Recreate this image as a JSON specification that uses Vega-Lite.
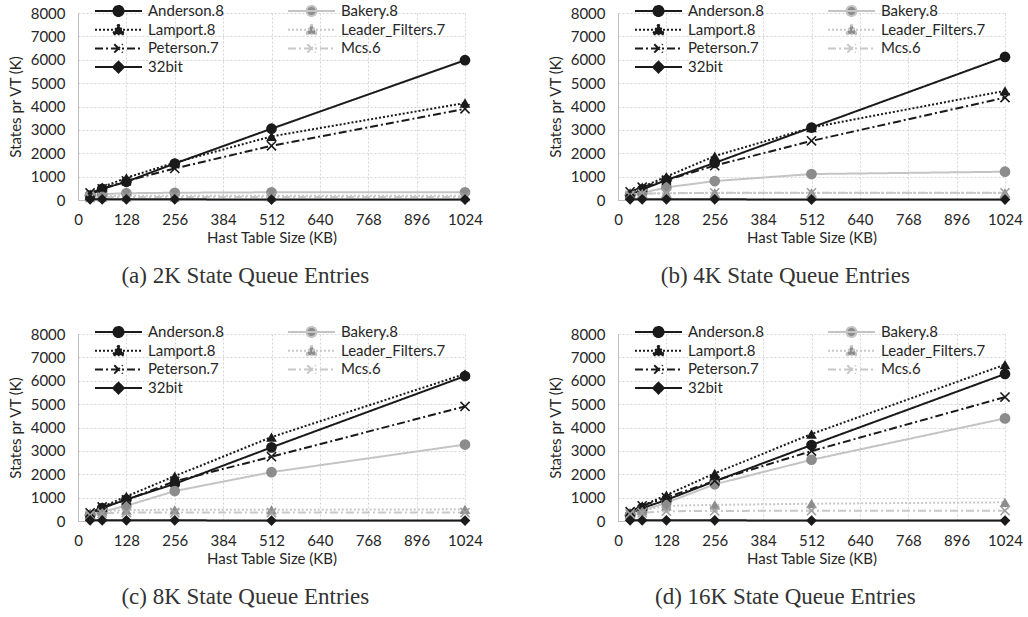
{
  "$schema": "https://vega.github.io/schema/vega-lite/v6.json",
  "padding": {"left": 8, "top": 3, "right": 5, "bottom": 5},
  "background": "white",
  "datasets": {
    "d": [
      {"p":"a","s":"Anderson.8","x":32,"y":200},{"p":"a","s":"Anderson.8","x":64,"y":480},{"p":"a","s":"Anderson.8","x":128,"y":780},{"p":"a","s":"Anderson.8","x":256,"y":1560},{"p":"a","s":"Anderson.8","x":512,"y":3050},{"p":"a","s":"Anderson.8","x":1024,"y":5980},
      {"p":"a","s":"Bakery.8","x":32,"y":200},{"p":"a","s":"Bakery.8","x":64,"y":250},{"p":"a","s":"Bakery.8","x":128,"y":290},{"p":"a","s":"Bakery.8","x":256,"y":310},{"p":"a","s":"Bakery.8","x":512,"y":330},{"p":"a","s":"Bakery.8","x":1024,"y":330},
      {"p":"a","s":"Lamport.8","x":32,"y":250},{"p":"a","s":"Lamport.8","x":64,"y":550},{"p":"a","s":"Lamport.8","x":128,"y":950},{"p":"a","s":"Lamport.8","x":256,"y":1600},{"p":"a","s":"Lamport.8","x":512,"y":2720},{"p":"a","s":"Lamport.8","x":1024,"y":4150},
      {"p":"a","s":"Leader_Filters.7","x":32,"y":150},{"p":"a","s":"Leader_Filters.7","x":64,"y":170},{"p":"a","s":"Leader_Filters.7","x":128,"y":180},{"p":"a","s":"Leader_Filters.7","x":256,"y":180},{"p":"a","s":"Leader_Filters.7","x":512,"y":180},{"p":"a","s":"Leader_Filters.7","x":1024,"y":180},
      {"p":"a","s":"Peterson.7","x":32,"y":300},{"p":"a","s":"Peterson.7","x":64,"y":480},{"p":"a","s":"Peterson.7","x":128,"y":820},{"p":"a","s":"Peterson.7","x":256,"y":1350},{"p":"a","s":"Peterson.7","x":512,"y":2320},{"p":"a","s":"Peterson.7","x":1024,"y":3900},
      {"p":"a","s":"Mcs.6","x":32,"y":100},{"p":"a","s":"Mcs.6","x":64,"y":120},{"p":"a","s":"Mcs.6","x":128,"y":130},{"p":"a","s":"Mcs.6","x":256,"y":130},{"p":"a","s":"Mcs.6","x":512,"y":130},{"p":"a","s":"Mcs.6","x":1024,"y":130},
      {"p":"a","s":"32bit","x":32,"y":30},{"p":"a","s":"32bit","x":64,"y":30},{"p":"a","s":"32bit","x":128,"y":30},{"p":"a","s":"32bit","x":256,"y":30},{"p":"a","s":"32bit","x":512,"y":20},{"p":"a","s":"32bit","x":1024,"y":20},

      {"p":"b","s":"Anderson.8","x":32,"y":200},{"p":"b","s":"Anderson.8","x":64,"y":450},{"p":"b","s":"Anderson.8","x":128,"y":850},{"p":"b","s":"Anderson.8","x":256,"y":1590},{"p":"b","s":"Anderson.8","x":512,"y":3100},{"p":"b","s":"Anderson.8","x":1024,"y":6120},
      {"p":"b","s":"Bakery.8","x":32,"y":200},{"p":"b","s":"Bakery.8","x":64,"y":300},{"p":"b","s":"Bakery.8","x":128,"y":540},{"p":"b","s":"Bakery.8","x":256,"y":810},{"p":"b","s":"Bakery.8","x":512,"y":1110},{"p":"b","s":"Bakery.8","x":1024,"y":1210},
      {"p":"b","s":"Lamport.8","x":32,"y":300},{"p":"b","s":"Lamport.8","x":64,"y":550},{"p":"b","s":"Lamport.8","x":128,"y":1000},{"p":"b","s":"Lamport.8","x":256,"y":1880},{"p":"b","s":"Lamport.8","x":512,"y":3100},{"p":"b","s":"Lamport.8","x":1024,"y":4670},
      {"p":"b","s":"Leader_Filters.7","x":32,"y":250},{"p":"b","s":"Leader_Filters.7","x":64,"y":280},{"p":"b","s":"Leader_Filters.7","x":128,"y":290},{"p":"b","s":"Leader_Filters.7","x":256,"y":300},{"p":"b","s":"Leader_Filters.7","x":512,"y":300},{"p":"b","s":"Leader_Filters.7","x":1024,"y":300},
      {"p":"b","s":"Peterson.7","x":32,"y":350},{"p":"b","s":"Peterson.7","x":64,"y":550},{"p":"b","s":"Peterson.7","x":128,"y":850},{"p":"b","s":"Peterson.7","x":256,"y":1470},{"p":"b","s":"Peterson.7","x":512,"y":2530},{"p":"b","s":"Peterson.7","x":1024,"y":4380},
      {"p":"b","s":"Mcs.6","x":32,"y":200},{"p":"b","s":"Mcs.6","x":64,"y":260},{"p":"b","s":"Mcs.6","x":128,"y":290},{"p":"b","s":"Mcs.6","x":256,"y":310},{"p":"b","s":"Mcs.6","x":512,"y":310},{"p":"b","s":"Mcs.6","x":1024,"y":310},
      {"p":"b","s":"32bit","x":32,"y":30},{"p":"b","s":"32bit","x":64,"y":30},{"p":"b","s":"32bit","x":128,"y":30},{"p":"b","s":"32bit","x":256,"y":30},{"p":"b","s":"32bit","x":512,"y":20},{"p":"b","s":"32bit","x":1024,"y":20},

      {"p":"c","s":"Anderson.8","x":32,"y":250},{"p":"c","s":"Anderson.8","x":64,"y":550},{"p":"c","s":"Anderson.8","x":128,"y":920},{"p":"c","s":"Anderson.8","x":256,"y":1590},{"p":"c","s":"Anderson.8","x":512,"y":3150},{"p":"c","s":"Anderson.8","x":1024,"y":6200},
      {"p":"c","s":"Bakery.8","x":32,"y":250},{"p":"c","s":"Bakery.8","x":64,"y":400},{"p":"c","s":"Bakery.8","x":128,"y":650},{"p":"c","s":"Bakery.8","x":256,"y":1280},{"p":"c","s":"Bakery.8","x":512,"y":2090},{"p":"c","s":"Bakery.8","x":1024,"y":3270},
      {"p":"c","s":"Lamport.8","x":32,"y":300},{"p":"c","s":"Lamport.8","x":64,"y":600},{"p":"c","s":"Lamport.8","x":128,"y":1050},{"p":"c","s":"Lamport.8","x":256,"y":1920},{"p":"c","s":"Lamport.8","x":512,"y":3590},{"p":"c","s":"Lamport.8","x":1024,"y":6290},
      {"p":"c","s":"Leader_Filters.7","x":32,"y":300},{"p":"c","s":"Leader_Filters.7","x":64,"y":420},{"p":"c","s":"Leader_Filters.7","x":128,"y":470},{"p":"c","s":"Leader_Filters.7","x":256,"y":480},{"p":"c","s":"Leader_Filters.7","x":512,"y":480},{"p":"c","s":"Leader_Filters.7","x":1024,"y":500},
      {"p":"c","s":"Peterson.7","x":32,"y":350},{"p":"c","s":"Peterson.7","x":64,"y":600},{"p":"c","s":"Peterson.7","x":128,"y":900},{"p":"c","s":"Peterson.7","x":256,"y":1700},{"p":"c","s":"Peterson.7","x":512,"y":2750},{"p":"c","s":"Peterson.7","x":1024,"y":4900},
      {"p":"c","s":"Mcs.6","x":32,"y":250},{"p":"c","s":"Mcs.6","x":64,"y":330},{"p":"c","s":"Mcs.6","x":128,"y":360},{"p":"c","s":"Mcs.6","x":256,"y":360},{"p":"c","s":"Mcs.6","x":512,"y":360},{"p":"c","s":"Mcs.6","x":1024,"y":360},
      {"p":"c","s":"32bit","x":32,"y":30},{"p":"c","s":"32bit","x":64,"y":30},{"p":"c","s":"32bit","x":128,"y":30},{"p":"c","s":"32bit","x":256,"y":30},{"p":"c","s":"32bit","x":512,"y":20},{"p":"c","s":"32bit","x":1024,"y":20},

      {"p":"d","s":"Anderson.8","x":32,"y":250},{"p":"d","s":"Anderson.8","x":64,"y":550},{"p":"d","s":"Anderson.8","x":128,"y":900},{"p":"d","s":"Anderson.8","x":256,"y":1700},{"p":"d","s":"Anderson.8","x":512,"y":3250},{"p":"d","s":"Anderson.8","x":1024,"y":6290},
      {"p":"d","s":"Bakery.8","x":32,"y":250},{"p":"d","s":"Bakery.8","x":64,"y":450},{"p":"d","s":"Bakery.8","x":128,"y":780},{"p":"d","s":"Bakery.8","x":256,"y":1570},{"p":"d","s":"Bakery.8","x":512,"y":2620},{"p":"d","s":"Bakery.8","x":1024,"y":4390},
      {"p":"d","s":"Lamport.8","x":32,"y":350},{"p":"d","s":"Lamport.8","x":64,"y":650},{"p":"d","s":"Lamport.8","x":128,"y":1110},{"p":"d","s":"Lamport.8","x":256,"y":2040},{"p":"d","s":"Lamport.8","x":512,"y":3720},{"p":"d","s":"Lamport.8","x":1024,"y":6690},
      {"p":"d","s":"Leader_Filters.7","x":32,"y":300},{"p":"d","s":"Leader_Filters.7","x":64,"y":450},{"p":"d","s":"Leader_Filters.7","x":128,"y":650},{"p":"d","s":"Leader_Filters.7","x":256,"y":690},{"p":"d","s":"Leader_Filters.7","x":512,"y":740},{"p":"d","s":"Leader_Filters.7","x":1024,"y":800},
      {"p":"d","s":"Peterson.7","x":32,"y":400},{"p":"d","s":"Peterson.7","x":64,"y":650},{"p":"d","s":"Peterson.7","x":128,"y":1000},{"p":"d","s":"Peterson.7","x":256,"y":1720},{"p":"d","s":"Peterson.7","x":512,"y":2990},{"p":"d","s":"Peterson.7","x":1024,"y":5300},
      {"p":"d","s":"Mcs.6","x":32,"y":300},{"p":"d","s":"Mcs.6","x":64,"y":350},{"p":"d","s":"Mcs.6","x":128,"y":420},{"p":"d","s":"Mcs.6","x":256,"y":430},{"p":"d","s":"Mcs.6","x":512,"y":440},{"p":"d","s":"Mcs.6","x":1024,"y":440},
      {"p":"d","s":"32bit","x":32,"y":30},{"p":"d","s":"32bit","x":64,"y":30},{"p":"d","s":"32bit","x":128,"y":30},{"p":"d","s":"32bit","x":256,"y":30},{"p":"d","s":"32bit","x":512,"y":20},{"p":"d","s":"32bit","x":1024,"y":20}
    ]
  },
  "config": {
    "view": {"stroke": null},
    "font": "Lato",
    "axis": {
      "labelFont": "Lato", "labelFontSize": 15, "labelColor": "#262626", "labelOverlap": false, "labelFlush": false, "format": "d",
      "titleFont": "Lato", "titleFontSize": 15, "titleFontWeight": "normal", "titleColor": "#262626",
      "gridColor": "#d4d4d4", "gridDash": [2, 2], "gridWidth": 1,
      "domainColor": "#bfbfbf", "tickSize": 0
    },
    "axisX": {"labelPadding": 12, "titlePadding": 3},
    "axisY": {"labelPadding": 13, "titlePadding": 7},
    "title": {"orient": "bottom", "frame": "bounds", "anchor": "middle", "font": "Liberation Serif", "fontSize": 23, "fontWeight": "normal", "color": "#333333", "offset": 20},
    "legend": {
      "orient": "none", "legendX": 16, "legendY": -10, "columns": 2, "direction": "horizontal", "columnPadding": 63,
      "rowPadding": 2.7, "clipHeight": 16, "symbolSize": 2209, "symbolStrokeWidth": 2,
      "labelOffset": 5, "labelFont": "Lato", "labelFontSize": 15, "labelColor": "#262626",
      "padding": 0, "title": null
    }
  },
  "spacing": 36,
  "vconcat": [
    {"hconcat": [
      {
        "width": 387, "height": 187,
        "data": {"name": "d"},
        "transform": [{"filter": "datum.p == 'a'"}],
        "title": "(a) 2K State Queue Entries",
        "encoding": {
          "x": {"field": "x", "type": "quantitative", "scale": {"domain": [0, 1024], "nice": false}, "axis": {"values": [0,128,256,384,512,640,768,896,1024], "title": "Hast Table Size (KB)"}},
          "y": {"field": "y", "type": "quantitative", "scale": {"domain": [0, 8000], "nice": false}, "axis": {"values": [0,1000,2000,3000,4000,5000,6000,7000,8000], "title": "States pr VT (K)"}}
        },
        "layer": [
          {"mark": {"type": "line", "strokeWidth": 2},
           "encoding": {
             "stroke": {"field": "s", "type": "nominal",
               "scale": {"domain": ["Anderson.8","Bakery.8","Lamport.8","Leader_Filters.7","Peterson.7","Mcs.6","32bit"], "range": ["#1a1a1a","#c4c4c4","#1a1a1a","#c8c8c8","#1a1a1a","#c8c8c8","#1a1a1a"]},
               "legend": {"title": null, "encode": {"symbols": {"update": {
                 "shape": {"signal": "['M-1,0H1M-0.213,0A0.213,0.213,0,1,0,0.213,0A0.213,0.213,0,1,0,-0.213,0Z','M-1,0H1M-0.213,0A0.213,0.213,0,1,0,0.213,0A0.213,0.213,0,1,0,-0.213,0Z','M-1,0H1M0,-0.23L0.245,0.19L-0.245,0.19Z','M-1,0H1M0,-0.23L0.245,0.19L-0.245,0.19Z','M-1,0H1M-0.18,-0.18L0.18,0.18M-0.18,0.18L0.18,-0.18','M-1,0H1M-0.18,-0.18L0.18,0.18M-0.18,0.18L0.18,-0.18','M-1,0H1M0,-0.23L0.23,0L0,0.23L-0.23,0Z'][indexof(['Anderson.8','Bakery.8','Lamport.8','Leader_Filters.7','Peterson.7','Mcs.6','32bit'], datum.value)]"},
                 "stroke": {"signal": "['#1a1a1a','#c4c4c4','#1a1a1a','#c8c8c8','#1a1a1a','#b0b0b0','#1a1a1a'][indexof(['Anderson.8','Bakery.8','Lamport.8','Leader_Filters.7','Peterson.7','Mcs.6','32bit'], datum.value)]"},
                 "fill": {"signal": "['#1a1a1a','#8c8c8c','#1a1a1a','#8c8c8c','transparent','transparent','#1a1a1a'][indexof(['Anderson.8','Bakery.8','Lamport.8','Leader_Filters.7','Peterson.7','Mcs.6','32bit'], datum.value)]"},
                 "strokeDash": {"signal": "[[1,0],[1,0],[2,2],[2,2],[8,3,2,3],[8,3,2,3],[1,0]][indexof(['Anderson.8','Bakery.8','Lamport.8','Leader_Filters.7','Peterson.7','Mcs.6','32bit'], datum.value)]"},
                 "strokeWidth": {"value": 2},
                 "opacity": {"value": 1}
               }}}}},
             "strokeDash": {"field": "s", "type": "nominal",
               "scale": {"domain": ["Anderson.8","Bakery.8","Lamport.8","Leader_Filters.7","Peterson.7","Mcs.6","32bit"], "range": [[1,0],[1,0],[2,2],[2,2],[8,3,2,3],[8,3,2,3],[1,0]]},
               "legend": null}
           }},
          {"mark": {"type": "point", "filled": true, "size": 115, "opacity": 1, "strokeWidth": 1.6},
           "encoding": {
             "shape": {"field": "s", "type": "nominal", "scale": {"domain": ["Anderson.8","Bakery.8","Lamport.8","Leader_Filters.7","Peterson.7","Mcs.6","32bit"], "range": ["circle","circle","triangle-up","triangle-up","M-0.85,-0.85L0.85,0.85M-0.85,0.85L0.85,-0.85","M-0.85,-0.85L0.85,0.85M-0.85,0.85L0.85,-0.85","diamond"]}, "legend": null},
             "fill": {"field": "s", "type": "nominal", "scale": {"domain": ["Anderson.8","Bakery.8","Lamport.8","Leader_Filters.7","Peterson.7","Mcs.6","32bit"], "range": ["#1a1a1a","#8c8c8c","#1a1a1a","#8c8c8c","transparent","transparent","#1a1a1a"]}, "legend": null},
             "stroke": {"field": "s", "type": "nominal", "scale": {"domain": ["Anderson.8","Bakery.8","Lamport.8","Leader_Filters.7","Peterson.7","Mcs.6","32bit"], "range": ["transparent","transparent","transparent","transparent","#1a1a1a","#a0a0a0","transparent"]}, "legend": null}
           }}
        ],
        "resolve": {"scale": {"stroke": "independent"}}
      },
      {
        "width": 387, "height": 187,
        "data": {"name": "d"},
        "transform": [{"filter": "datum.p == 'b'"}],
        "title": "(b) 4K State Queue Entries",
        "encoding": {
          "x": {"field": "x", "type": "quantitative", "scale": {"domain": [0, 1024], "nice": false}, "axis": {"values": [0,128,256,384,512,640,768,896,1024], "title": "Hast Table Size (KB)"}},
          "y": {"field": "y", "type": "quantitative", "scale": {"domain": [0, 8000], "nice": false}, "axis": {"values": [0,1000,2000,3000,4000,5000,6000,7000,8000], "title": "States pr VT (K)"}}
        },
        "layer": [
          {"mark": {"type": "line", "strokeWidth": 2},
           "encoding": {
             "stroke": {"field": "s", "type": "nominal",
               "scale": {"domain": ["Anderson.8","Bakery.8","Lamport.8","Leader_Filters.7","Peterson.7","Mcs.6","32bit"], "range": ["#1a1a1a","#c4c4c4","#1a1a1a","#c8c8c8","#1a1a1a","#c8c8c8","#1a1a1a"]},
               "legend": {"title": null, "encode": {"symbols": {"update": {
                 "shape": {"signal": "['M-1,0H1M-0.213,0A0.213,0.213,0,1,0,0.213,0A0.213,0.213,0,1,0,-0.213,0Z','M-1,0H1M-0.213,0A0.213,0.213,0,1,0,0.213,0A0.213,0.213,0,1,0,-0.213,0Z','M-1,0H1M0,-0.23L0.245,0.19L-0.245,0.19Z','M-1,0H1M0,-0.23L0.245,0.19L-0.245,0.19Z','M-1,0H1M-0.18,-0.18L0.18,0.18M-0.18,0.18L0.18,-0.18','M-1,0H1M-0.18,-0.18L0.18,0.18M-0.18,0.18L0.18,-0.18','M-1,0H1M0,-0.23L0.23,0L0,0.23L-0.23,0Z'][indexof(['Anderson.8','Bakery.8','Lamport.8','Leader_Filters.7','Peterson.7','Mcs.6','32bit'], datum.value)]"},
                 "stroke": {"signal": "['#1a1a1a','#c4c4c4','#1a1a1a','#c8c8c8','#1a1a1a','#b0b0b0','#1a1a1a'][indexof(['Anderson.8','Bakery.8','Lamport.8','Leader_Filters.7','Peterson.7','Mcs.6','32bit'], datum.value)]"},
                 "fill": {"signal": "['#1a1a1a','#8c8c8c','#1a1a1a','#8c8c8c','transparent','transparent','#1a1a1a'][indexof(['Anderson.8','Bakery.8','Lamport.8','Leader_Filters.7','Peterson.7','Mcs.6','32bit'], datum.value)]"},
                 "strokeDash": {"signal": "[[1,0],[1,0],[2,2],[2,2],[8,3,2,3],[8,3,2,3],[1,0]][indexof(['Anderson.8','Bakery.8','Lamport.8','Leader_Filters.7','Peterson.7','Mcs.6','32bit'], datum.value)]"},
                 "strokeWidth": {"value": 2},
                 "opacity": {"value": 1}
               }}}}},
             "strokeDash": {"field": "s", "type": "nominal",
               "scale": {"domain": ["Anderson.8","Bakery.8","Lamport.8","Leader_Filters.7","Peterson.7","Mcs.6","32bit"], "range": [[1,0],[1,0],[2,2],[2,2],[8,3,2,3],[8,3,2,3],[1,0]]},
               "legend": null}
           }},
          {"mark": {"type": "point", "filled": true, "size": 115, "opacity": 1, "strokeWidth": 1.6},
           "encoding": {
             "shape": {"field": "s", "type": "nominal", "scale": {"domain": ["Anderson.8","Bakery.8","Lamport.8","Leader_Filters.7","Peterson.7","Mcs.6","32bit"], "range": ["circle","circle","triangle-up","triangle-up","M-0.85,-0.85L0.85,0.85M-0.85,0.85L0.85,-0.85","M-0.85,-0.85L0.85,0.85M-0.85,0.85L0.85,-0.85","diamond"]}, "legend": null},
             "fill": {"field": "s", "type": "nominal", "scale": {"domain": ["Anderson.8","Bakery.8","Lamport.8","Leader_Filters.7","Peterson.7","Mcs.6","32bit"], "range": ["#1a1a1a","#8c8c8c","#1a1a1a","#8c8c8c","transparent","transparent","#1a1a1a"]}, "legend": null},
             "stroke": {"field": "s", "type": "nominal", "scale": {"domain": ["Anderson.8","Bakery.8","Lamport.8","Leader_Filters.7","Peterson.7","Mcs.6","32bit"], "range": ["transparent","transparent","transparent","transparent","#1a1a1a","#a0a0a0","transparent"]}, "legend": null}
           }}
        ],
        "resolve": {"scale": {"stroke": "independent"}}
      }
    ], "spacing": 65},
    {"hconcat": [
      {
        "width": 387, "height": 187,
        "data": {"name": "d"},
        "transform": [{"filter": "datum.p == 'c'"}],
        "title": "(c) 8K State Queue Entries",
        "encoding": {
          "x": {"field": "x", "type": "quantitative", "scale": {"domain": [0, 1024], "nice": false}, "axis": {"values": [0,128,256,384,512,640,768,896,1024], "title": "Hast Table Size (KB)"}},
          "y": {"field": "y", "type": "quantitative", "scale": {"domain": [0, 8000], "nice": false}, "axis": {"values": [0,1000,2000,3000,4000,5000,6000,7000,8000], "title": "States pr VT (K)"}}
        },
        "layer": [
          {"mark": {"type": "line", "strokeWidth": 2},
           "encoding": {
             "stroke": {"field": "s", "type": "nominal",
               "scale": {"domain": ["Anderson.8","Bakery.8","Lamport.8","Leader_Filters.7","Peterson.7","Mcs.6","32bit"], "range": ["#1a1a1a","#c4c4c4","#1a1a1a","#c8c8c8","#1a1a1a","#c8c8c8","#1a1a1a"]},
               "legend": {"title": null, "encode": {"symbols": {"update": {
                 "shape": {"signal": "['M-1,0H1M-0.213,0A0.213,0.213,0,1,0,0.213,0A0.213,0.213,0,1,0,-0.213,0Z','M-1,0H1M-0.213,0A0.213,0.213,0,1,0,0.213,0A0.213,0.213,0,1,0,-0.213,0Z','M-1,0H1M0,-0.23L0.245,0.19L-0.245,0.19Z','M-1,0H1M0,-0.23L0.245,0.19L-0.245,0.19Z','M-1,0H1M-0.18,-0.18L0.18,0.18M-0.18,0.18L0.18,-0.18','M-1,0H1M-0.18,-0.18L0.18,0.18M-0.18,0.18L0.18,-0.18','M-1,0H1M0,-0.23L0.23,0L0,0.23L-0.23,0Z'][indexof(['Anderson.8','Bakery.8','Lamport.8','Leader_Filters.7','Peterson.7','Mcs.6','32bit'], datum.value)]"},
                 "stroke": {"signal": "['#1a1a1a','#c4c4c4','#1a1a1a','#c8c8c8','#1a1a1a','#b0b0b0','#1a1a1a'][indexof(['Anderson.8','Bakery.8','Lamport.8','Leader_Filters.7','Peterson.7','Mcs.6','32bit'], datum.value)]"},
                 "fill": {"signal": "['#1a1a1a','#8c8c8c','#1a1a1a','#8c8c8c','transparent','transparent','#1a1a1a'][indexof(['Anderson.8','Bakery.8','Lamport.8','Leader_Filters.7','Peterson.7','Mcs.6','32bit'], datum.value)]"},
                 "strokeDash": {"signal": "[[1,0],[1,0],[2,2],[2,2],[8,3,2,3],[8,3,2,3],[1,0]][indexof(['Anderson.8','Bakery.8','Lamport.8','Leader_Filters.7','Peterson.7','Mcs.6','32bit'], datum.value)]"},
                 "strokeWidth": {"value": 2},
                 "opacity": {"value": 1}
               }}}}},
             "strokeDash": {"field": "s", "type": "nominal",
               "scale": {"domain": ["Anderson.8","Bakery.8","Lamport.8","Leader_Filters.7","Peterson.7","Mcs.6","32bit"], "range": [[1,0],[1,0],[2,2],[2,2],[8,3,2,3],[8,3,2,3],[1,0]]},
               "legend": null}
           }},
          {"mark": {"type": "point", "filled": true, "size": 115, "opacity": 1, "strokeWidth": 1.6},
           "encoding": {
             "shape": {"field": "s", "type": "nominal", "scale": {"domain": ["Anderson.8","Bakery.8","Lamport.8","Leader_Filters.7","Peterson.7","Mcs.6","32bit"], "range": ["circle","circle","triangle-up","triangle-up","M-0.85,-0.85L0.85,0.85M-0.85,0.85L0.85,-0.85","M-0.85,-0.85L0.85,0.85M-0.85,0.85L0.85,-0.85","diamond"]}, "legend": null},
             "fill": {"field": "s", "type": "nominal", "scale": {"domain": ["Anderson.8","Bakery.8","Lamport.8","Leader_Filters.7","Peterson.7","Mcs.6","32bit"], "range": ["#1a1a1a","#8c8c8c","#1a1a1a","#8c8c8c","transparent","transparent","#1a1a1a"]}, "legend": null},
             "stroke": {"field": "s", "type": "nominal", "scale": {"domain": ["Anderson.8","Bakery.8","Lamport.8","Leader_Filters.7","Peterson.7","Mcs.6","32bit"], "range": ["transparent","transparent","transparent","transparent","#1a1a1a","#a0a0a0","transparent"]}, "legend": null}
           }}
        ],
        "resolve": {"scale": {"stroke": "independent"}}
      },
      {
        "width": 387, "height": 187,
        "data": {"name": "d"},
        "transform": [{"filter": "datum.p == 'd'"}],
        "title": "(d) 16K State Queue Entries",
        "encoding": {
          "x": {"field": "x", "type": "quantitative", "scale": {"domain": [0, 1024], "nice": false}, "axis": {"values": [0,128,256,384,512,640,768,896,1024], "title": "Hast Table Size (KB)"}},
          "y": {"field": "y", "type": "quantitative", "scale": {"domain": [0, 8000], "nice": false}, "axis": {"values": [0,1000,2000,3000,4000,5000,6000,7000,8000], "title": "States pr VT (K)"}}
        },
        "layer": [
          {"mark": {"type": "line", "strokeWidth": 2},
           "encoding": {
             "stroke": {"field": "s", "type": "nominal",
               "scale": {"domain": ["Anderson.8","Bakery.8","Lamport.8","Leader_Filters.7","Peterson.7","Mcs.6","32bit"], "range": ["#1a1a1a","#c4c4c4","#1a1a1a","#c8c8c8","#1a1a1a","#c8c8c8","#1a1a1a"]},
               "legend": {"title": null, "encode": {"symbols": {"update": {
                 "shape": {"signal": "['M-1,0H1M-0.213,0A0.213,0.213,0,1,0,0.213,0A0.213,0.213,0,1,0,-0.213,0Z','M-1,0H1M-0.213,0A0.213,0.213,0,1,0,0.213,0A0.213,0.213,0,1,0,-0.213,0Z','M-1,0H1M0,-0.23L0.245,0.19L-0.245,0.19Z','M-1,0H1M0,-0.23L0.245,0.19L-0.245,0.19Z','M-1,0H1M-0.18,-0.18L0.18,0.18M-0.18,0.18L0.18,-0.18','M-1,0H1M-0.18,-0.18L0.18,0.18M-0.18,0.18L0.18,-0.18','M-1,0H1M0,-0.23L0.23,0L0,0.23L-0.23,0Z'][indexof(['Anderson.8','Bakery.8','Lamport.8','Leader_Filters.7','Peterson.7','Mcs.6','32bit'], datum.value)]"},
                 "stroke": {"signal": "['#1a1a1a','#c4c4c4','#1a1a1a','#c8c8c8','#1a1a1a','#b0b0b0','#1a1a1a'][indexof(['Anderson.8','Bakery.8','Lamport.8','Leader_Filters.7','Peterson.7','Mcs.6','32bit'], datum.value)]"},
                 "fill": {"signal": "['#1a1a1a','#8c8c8c','#1a1a1a','#8c8c8c','transparent','transparent','#1a1a1a'][indexof(['Anderson.8','Bakery.8','Lamport.8','Leader_Filters.7','Peterson.7','Mcs.6','32bit'], datum.value)]"},
                 "strokeDash": {"signal": "[[1,0],[1,0],[2,2],[2,2],[8,3,2,3],[8,3,2,3],[1,0]][indexof(['Anderson.8','Bakery.8','Lamport.8','Leader_Filters.7','Peterson.7','Mcs.6','32bit'], datum.value)]"},
                 "strokeWidth": {"value": 2},
                 "opacity": {"value": 1}
               }}}}},
             "strokeDash": {"field": "s", "type": "nominal",
               "scale": {"domain": ["Anderson.8","Bakery.8","Lamport.8","Leader_Filters.7","Peterson.7","Mcs.6","32bit"], "range": [[1,0],[1,0],[2,2],[2,2],[8,3,2,3],[8,3,2,3],[1,0]]},
               "legend": null}
           }},
          {"mark": {"type": "point", "filled": true, "size": 115, "opacity": 1, "strokeWidth": 1.6},
           "encoding": {
             "shape": {"field": "s", "type": "nominal", "scale": {"domain": ["Anderson.8","Bakery.8","Lamport.8","Leader_Filters.7","Peterson.7","Mcs.6","32bit"], "range": ["circle","circle","triangle-up","triangle-up","M-0.85,-0.85L0.85,0.85M-0.85,0.85L0.85,-0.85","M-0.85,-0.85L0.85,0.85M-0.85,0.85L0.85,-0.85","diamond"]}, "legend": null},
             "fill": {"field": "s", "type": "nominal", "scale": {"domain": ["Anderson.8","Bakery.8","Lamport.8","Leader_Filters.7","Peterson.7","Mcs.6","32bit"], "range": ["#1a1a1a","#8c8c8c","#1a1a1a","#8c8c8c","transparent","transparent","#1a1a1a"]}, "legend": null},
             "stroke": {"field": "s", "type": "nominal", "scale": {"domain": ["Anderson.8","Bakery.8","Lamport.8","Leader_Filters.7","Peterson.7","Mcs.6","32bit"], "range": ["transparent","transparent","transparent","transparent","#1a1a1a","#a0a0a0","transparent"]}, "legend": null}
           }}
        ],
        "resolve": {"scale": {"stroke": "independent"}}
      }
    ], "spacing": 65}
  ]
}
